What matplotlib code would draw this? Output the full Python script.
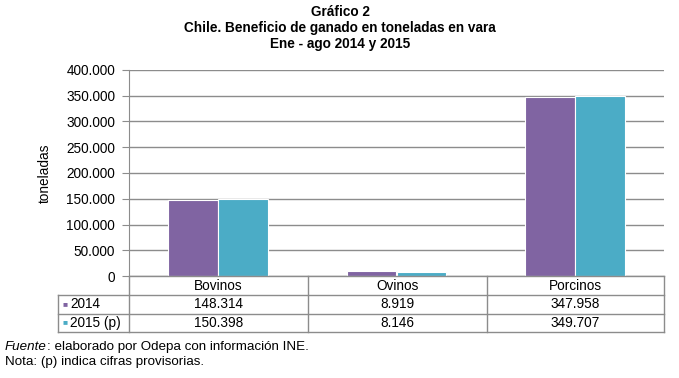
import numpy as np
import matplotlib.pyplot as plt
from matplotlib.lines import Line2D

plt.rcParams["font.family"] = ["Liberation Sans", "DejaVu Sans"]

categorias = ["Bovinos", "Ovinos", "Porcinos"]
series = ["2014", "2015 (p)"]
valores_2014 = [148314, 8919, 347958]
valores_2015 = [150398, 8146, 349707]
etiquetas_2014 = ["148.314", "8.919", "347.958"]
etiquetas_2015 = ["150.398", "8.146", "349.707"]
colores = ["#8064A2", "#4BACC6"]

W, H = 679, 378
fig = plt.figure(figsize=(W / 100, H / 100), dpi=100)


def fx(px):
    return px / W


def fy(py):
    return 1 - py / H


x0, x1 = 129, 664
y_top, y_bot = 70, 276
ax = fig.add_axes([fx(x0), fy(y_bot), fx(x1) - fx(x0), fy(y_top) - fy(y_bot)])

x = np.arange(len(categorias))
ancho = 0.28
ax.bar(x - ancho / 2, valores_2014, ancho, color=colores[0],
       edgecolor="white", linewidth=0.8, zorder=3)
ax.bar(x + ancho / 2, valores_2015, ancho, color=colores[1],
       edgecolor="white", linewidth=0.8, zorder=3)

ax.set_xlim(-0.5, len(categorias) - 0.5)
ax.set_ylim(0, 400000)
yt = np.arange(0, 400001, 50000)
ax.set_yticks(yt)
ax.set_yticklabels(
    ["0" if v == 0 else f"{v:,}".replace(",", ".") for v in yt],
    fontsize=9.8
)
ax.set_xticks([])
ax.grid(axis="y", color="#8c8c8c", linewidth=1, zorder=0)
for s in ["top", "right", "bottom"]:
    ax.spines[s].set_visible(False)
ax.spines["left"].set_color("#8c8c8c")
ax.tick_params(axis="y", length=5, color="#8c8c8c", pad=5)

fig.text(fx(45), fy(173), "toneladas", rotation=90,
         ha="center", va="center", fontsize=9.8)

# titulo
fig.text(fx(340), fy(12), "Gráfico 2", ha="center", va="center",
         fontsize=9.8, fontweight="bold")
fig.text(fx(340), fy(28), "Chile. Beneficio de ganado en toneladas en vara",
         ha="center", va="center", fontsize=9.8, fontweight="bold")
fig.text(fx(340), fy(44), "Ene - ago 2014 y 2015", ha="center", va="center",
         fontsize=9.8, fontweight="bold")

# tabla de datos
gris = "#8c8c8c"
filas = [276, 295, 314, 332]
cols = [x0, 308, 487, x1]
t_left = 58


def linea(xa, xb, ya, yb):
    fig.add_artist(Line2D([fx(xa), fx(xb)], [fy(ya), fy(yb)],
                          color=gris, linewidth=1))


linea(x0, x1, filas[0], filas[0])
for r in filas[1:]:
    linea(t_left, x1, r, r)
for c in cols:
    linea(c, c, filas[0], filas[-1])
linea(t_left, t_left, filas[1], filas[-1])

for i, cat in enumerate(categorias):
    cx = (cols[i] + cols[i + 1]) / 2
    fig.text(fx(cx), fy((filas[0] + filas[1]) / 2), cat,
             ha="center", va="center", fontsize=9.8)
    fig.text(fx(cx), fy((filas[1] + filas[2]) / 2), etiquetas_2014[i],
             ha="center", va="center", fontsize=9.8)
    fig.text(fx(cx), fy((filas[2] + filas[3]) / 2), etiquetas_2015[i],
             ha="center", va="center", fontsize=9.8)

for j, nombre in enumerate(series):
    cy = (filas[j + 1] + filas[j + 2]) / 2
    fig.text(fx(65), fy(cy), "■", color=colores[j],
             ha="center", va="center", fontsize=6)
    fig.text(fx(70), fy(cy), nombre, ha="left", va="center", fontsize=9.8)

# notas
t_fuente = fig.text(fx(5), fy(347), "Fuente", style="italic", ha="left",
                    va="center", fontsize=9.6)
fig.canvas.draw()
bb = t_fuente.get_window_extent()
fig.text(bb.x1 / W, fy(347), ": elaborado por Odepa con información INE.",
         ha="left", va="center", fontsize=9.6)
fig.text(fx(5), fy(362), "Nota: (p) indica cifras provisorias.",
         ha="left", va="center", fontsize=9.6)

fig.savefig("out.png", dpi=100)
